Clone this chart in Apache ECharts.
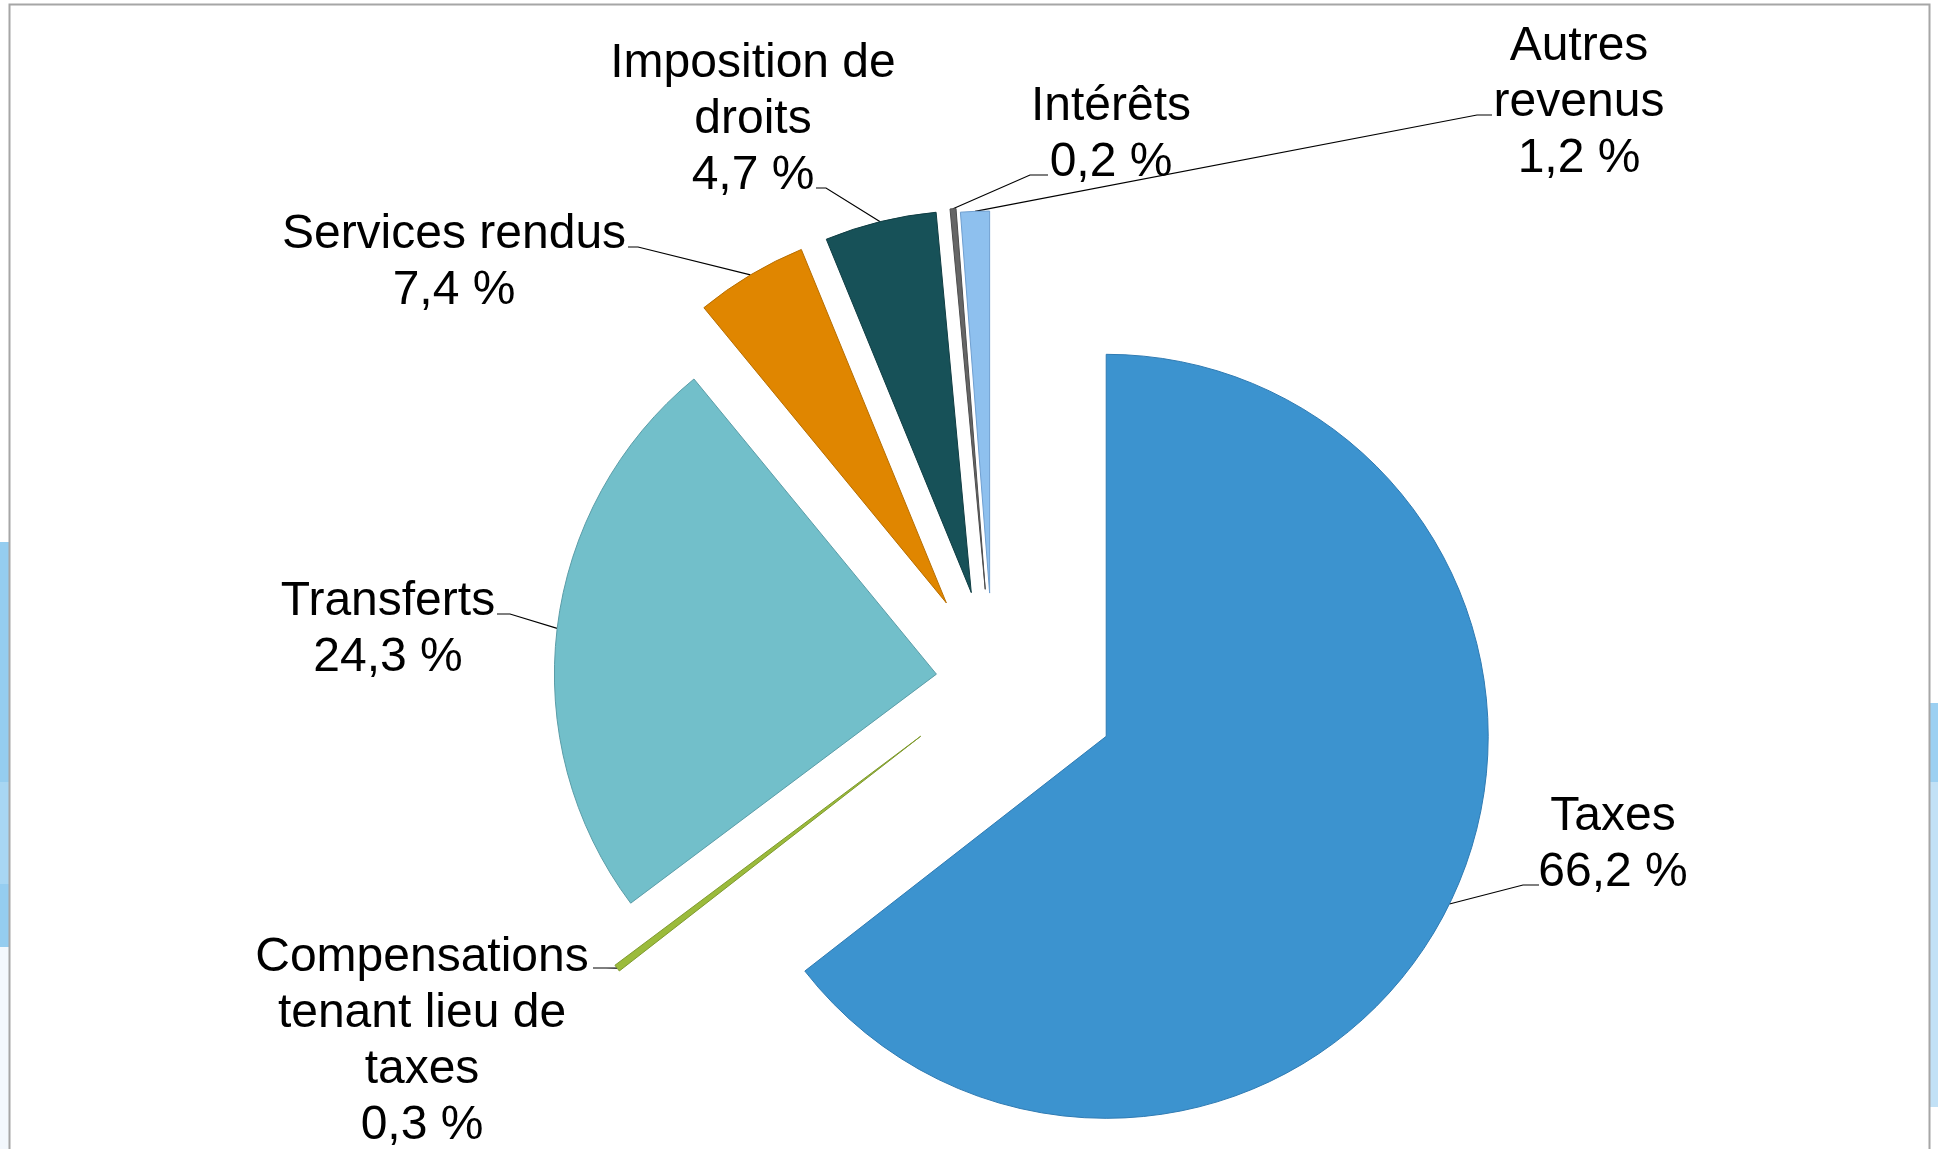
<!DOCTYPE html>
<html>
<head>
<meta charset="utf-8">
<title>Revenus</title>
<script src="https://cdn.jsdelivr.net/npm/echarts/dist/echarts.min.js"></script>
<style>
	html, body { margin: 0; padding: 0; background: #fff; }
	#main { width: 1938px; height: 1149px; }
</style>
</head>
<body>
<div id="main"></div>
<script>
// categories (label text, with the line breaks of the original)
var categories = ['Taxes', 'Compensations\ntenant lieu de\ntaxes', 'Transferts', 'Services rendus',
	'Imposition de\ndroits', 'Intérêts', 'Autres\nrevenus'];
// size of each slice as drawn (angle share, %)
var sliceShare = [64.5, 0.3, 24.3, 4.75, 4.73, 0.25, 1.22];
// percentages printed in the labels
var labelPct = [66.2, 0.3, 24.3, 7.4, 4.7, 0.2, 1.2];

// styles
var colors  = ['#3c93cf', '#9bbb3b', '#72bfca', '#e08600', '#175158', '#666666', '#8ec0ee'];
var borders = ['#2f7bb3', '#7f9a2e', '#5a9da8', '#b86e00', '#0f3d43', '#4d4d4d', '#6f9fd0'];
var explode = [126, 91, 57, 91, 91, 92, 88];
var pieCenter = [993, 681];
// label block centres
var labelPos = [[1613, 845], [422, 1042], [388, 630], [454, 263], [753, 120], [1111, 135], [1579, 103]];
// where the leader line meets the label (relative to its centre) and the short flat tail
var leaderEnd = [[-74, 40], [171, -74], [109, -16], [174, -16], [63, 68], [-63, 40], [-87, 12]];
var leaderTail = [-16, 13, 13, 10, 10, -18, -15];

function pctText(v) {
	return v.toFixed(1).replace('.', ',') + ' %';
}

var myChart = echarts.init(document.getElementById('main'));

// each slice gets its own series, pulled out along its middle direction
var total = 0;
for (var i = 0; i < sliceShare.length; i++) total += sliceShare[i];

var series = [];
var acc = 0;
for (var k = 0; k < categories.length; k++) {
	var mid = (acc + sliceShare[k] / 2) / total * 2 * Math.PI;
	acc += sliceShare[k];
	(function (k, mid) {
		var c = [pieCenter[0] + explode[k] * Math.sin(mid), pieCenter[1] - explode[k] * Math.cos(mid)];
		series.push({
			type: 'pie',
			center: c,
			radius: 382,
			startAngle: 90,
			clockwise: true,
			avoidLabelOverlap: false,
			silent: true,
			animation: false,
			emphasis: { disabled: true },
			label: {
				position: 'outside',
				color: '#000',
				fontFamily: 'Liberation Sans, Arial, sans-serif',
				fontSize: 48,
				lineHeight: 56,
				align: 'center',
				formatter: function (p) {
					return categories[p.dataIndex] + '\n' + pctText(labelPct[p.dataIndex]);
				}
			},
			labelLine: {
				length: 10,
				length2: 10,
				lineStyle: { color: '#000', width: 1.2 }
			},
			labelLayout: function (p) {
				var x = labelPos[k][0], y = labelPos[k][1];
				var res = { x: x, y: y, align: 'center', verticalAlign: 'middle' };
				if (p.labelLinePoints && p.labelLinePoints.length) {
					var a = p.labelLinePoints[0];
					var end = [x + leaderEnd[k][0], y + leaderEnd[k][1]];
					var bend = [end[0] + leaderTail[k], end[1]];
					res.labelLinePoints = [[a[0], a[1]], bend, end];
				}
				return res;
			},
			data: categories.map(function (name, i) {
				var on = (i === k);
				return {
					name: name,
					value: sliceShare[i],
					itemStyle: on
						? { color: colors[i], borderColor: borders[i], borderWidth: 1 }
						: { color: 'rgba(0,0,0,0)', borderWidth: 0 },
					label: { show: on },
					labelLine: { show: on }
				};
			})
		});
	})(k, mid);
}

myChart.setOption({
	backgroundColor: '#fff',
	graphic: [
		// slide decorations peeking out at the edges
		{ type: 'rect', z: -10, shape: { x: 0, y: 542, width: 10, height: 240 }, style: { fill: '#95cdf0' } },
		{ type: 'rect', z: -10, shape: { x: 0, y: 782, width: 10, height: 102 }, style: { fill: '#a8d6f3' } },
		{ type: 'rect', z: -10, shape: { x: 0, y: 884, width: 10, height: 63 }, style: { fill: '#95cdf0' } },
		{ type: 'rect', z: -10, shape: { x: 0, y: 947, width: 10, height: 202 }, style: { fill: '#f3f8fd' } },
		{ type: 'rect', z: -10, shape: { x: 1929, y: 703, width: 9, height: 79 }, style: { fill: '#9cd0f2' } },
		{ type: 'rect', z: -10, shape: { x: 1929, y: 782, width: 9, height: 325 }, style: { fill: '#c2e1f6' } },
		// frame
		{ type: 'rect', z: -5, shape: { x: 9.5, y: 4.5, width: 1920, height: 1170 }, style: { fill: null, stroke: '#a6a6a6', lineWidth: 2 } }
	],
	series: series
});
</script>
</body>
</html>
